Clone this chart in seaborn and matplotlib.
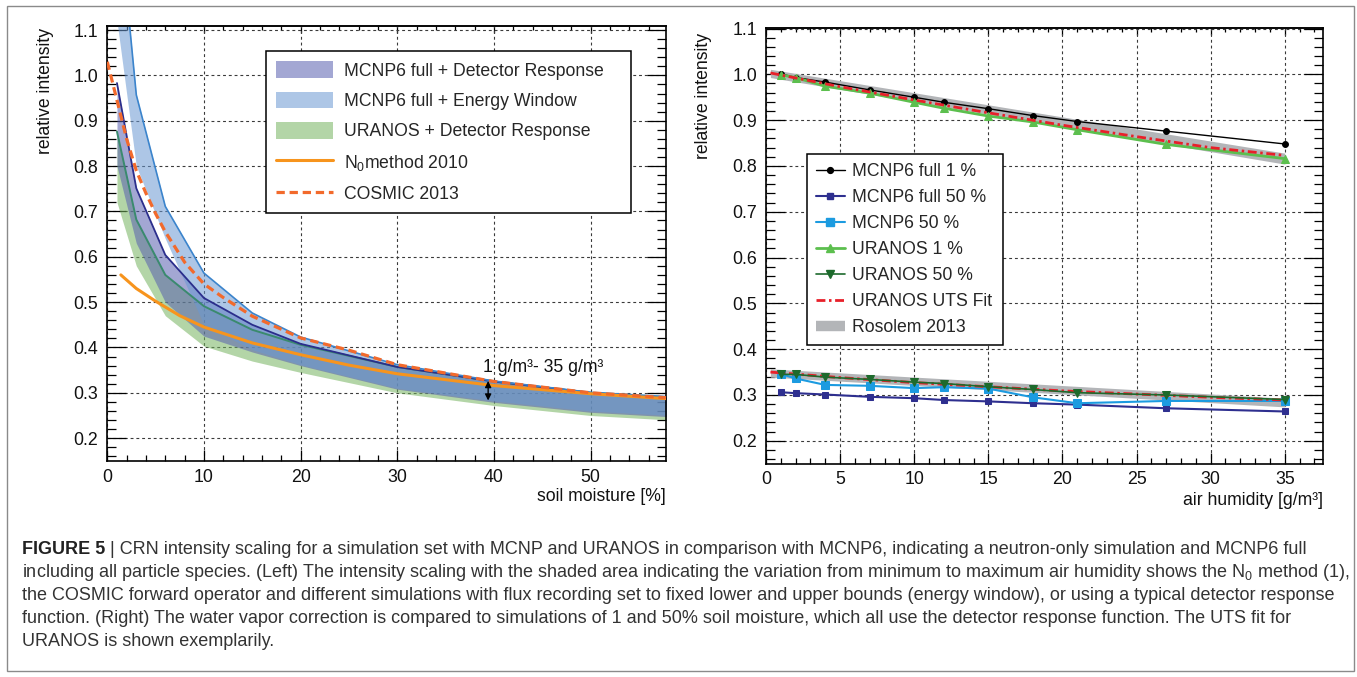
import matplotlib
matplotlib.use("Agg")
import matplotlib.pyplot as plt
import seaborn as sns
import numpy as np
from matplotlib.ticker import MultipleLocator, FormatStrFormatter
from matplotlib.patches import Patch, Rectangle
from matplotlib.lines import Line2D

sns.set_theme(style="ticks")
plt.rcParams['font.family'] = ['Liberation Sans', 'DejaVu Sans']
plt.rcParams['mathtext.fontset'] = 'custom'
plt.rcParams['mathtext.rm'] = 'Liberation Sans'
plt.rcParams['mathtext.it'] = 'Liberation Sans:italic'
plt.rcParams['mathtext.default'] = 'regular'

# ---------------- Left panel data (soil moisture [%]) ----------------
sm_pts = [1, 3, 6, 10, 15, 20, 30, 40, 50, 60]
det_upper = [0.983, 0.751, 0.604, 0.509, 0.450, 0.408, 0.357, 0.325, 0.300, 0.286]
det_lower = [0.800, 0.630, 0.500, 0.425, 0.390, 0.360, 0.308, 0.279, 0.257, 0.245]
ew_upper = [1.400, 0.957, 0.711, 0.564, 0.476, 0.423, 0.362, 0.326, 0.301, 0.289]
ew_lower = [1.120, 0.800, 0.640, 0.450, 0.395, 0.362, 0.310, 0.282, 0.260, 0.248]
ura_upper = [0.876, 0.682, 0.560, 0.491, 0.439, 0.406, 0.357, 0.325, 0.300, 0.288]
ura_lower = [0.720, 0.580, 0.470, 0.403, 0.370, 0.345, 0.300, 0.272, 0.250, 0.238]

cosmic_x = [0, 1, 2, 3, 4, 5, 6, 8, 10, 12, 15, 20, 25, 30, 40, 50, 58]
cosmic_y = [1.03, 0.945, 0.86, 0.79, 0.74, 0.695, 0.655, 0.588, 0.54, 0.51, 0.469,
            0.421, 0.394, 0.362, 0.325, 0.300, 0.289]
n0_x = [1.4, 3, 5, 7.5, 10, 15, 20, 25, 30, 40, 50, 58]
n0_y = [0.560, 0.530, 0.502, 0.470, 0.445, 0.410, 0.384, 0.361, 0.342, 0.316, 0.298, 0.287]

# ---------------- Right panel data (air humidity [g/m3]) ----------------
hum = [1, 2, 4, 7, 10, 12, 15, 18, 21, 27, 35]
mcnp_full_1 = [1.001, 0.993, 0.983, 0.966, 0.950, 0.939, 0.925, 0.910, 0.897, 0.876, 0.848]
mcnp_full_50 = [0.306, 0.304, 0.301, 0.296, 0.293, 0.289, 0.286, 0.282, 0.279, 0.271, 0.264]
mcnp_50 = [0.346, 0.336, 0.322, 0.320, 0.315, 0.317, 0.314, 0.295, 0.282, 0.287, 0.287]
uranos_1 = [0.999, 0.993, 0.974, 0.959, 0.939, 0.926, 0.909, 0.896, 0.879, 0.847, 0.816]
uranos_50 = [0.345, 0.345, 0.339, 0.334, 0.328, 0.325, 0.318, 0.312, 0.305, 0.300, 0.290]
fit_h = [0.3, 5, 10, 15, 20, 25, 30, 35]
uts_fit_1 = [1.003, 0.973, 0.944, 0.916, 0.889, 0.864, 0.840, 0.823]
uts_fit_50 = [0.350, 0.338, 0.327, 0.318, 0.309, 0.302, 0.295, 0.289]
ros_h = [0.3, 35]
ros1_hi = [1.011, 0.828]
ros1_lo = [0.993, 0.804]
ros50_hi = [0.357, 0.293]
ros50_lo = [0.339, 0.274]

# ---------------- figure ----------------
W, H = 1357, 677
fig = plt.figure(figsize=(W / 100, H / 100), dpi=100)
fig.patch.set_facecolor('white')


def rect(l, t, r, b):
    return [l / W, 1 - b / H, (r - l) / W, (b - t) / H]


axL = fig.add_axes(rect(107.3, 25.7, 666, 461.3))
axR = fig.add_axes(rect(766, 28.3, 1323.3, 463.7))

TICK_FS = 12.8
LAB_FS = 12.7


def style(ax, xmaj, xmin, ymaj, ymin):
    ax.set_facecolor('white')
    ax.xaxis.set_major_locator(MultipleLocator(xmaj))
    ax.xaxis.set_minor_locator(MultipleLocator(xmin))
    ax.yaxis.set_major_locator(MultipleLocator(ymaj))
    ax.yaxis.set_minor_locator(MultipleLocator(ymin))
    ax.yaxis.set_major_formatter(FormatStrFormatter('%.1f'))
    ax.grid(True, which='major', color='#3a3a3a', linestyle=(0, (2.6, 2.6)), linewidth=0.8)
    ax.set_axisbelow(True)
    for s in ax.spines.values():
        s.set_visible(True)
        s.set_linewidth(1.2)
        s.set_color('black')
    ax.tick_params(axis='y', which='major', direction='in', length=13.5, width=0.9,
                   left=True, right=True, labelsize=TICK_FS, pad=6.5, color='black',
                   labelcolor='#111111')
    ax.tick_params(axis='y', which='minor', direction='in', length=6.7, width=0.9,
                   left=True, right=True, color='black')
    ax.tick_params(axis='x', which='major', direction='in', length=8, width=0.9,
                   bottom=True, top=False, labelsize=TICK_FS, pad=5.5, color='black',
                   labelcolor='#111111')
    ax.tick_params(axis='x', which='minor', direction='in', length=4.3, width=0.9,
                   bottom=True, top=False, color='black')
    sec = ax.secondary_xaxis('top')
    sec.xaxis.set_major_locator(MultipleLocator(xmaj))
    sec.xaxis.set_minor_locator(MultipleLocator(xmin))
    sec.tick_params(which='major', direction='in', length=5, width=0.9, labeltop=False,
                    color='black')
    sec.tick_params(which='minor', direction='in', length=2.9, width=0.9, color='black')
    sec.spines['top'].set_linewidth(1.2)


# ---------------- Left panel ----------------
ALPHA = 0.55
GREEN_F = '#75B35F'
PURPLE_F = '#5860B0'
BLUE_F = '#6A98D2'
axL.fill_between(sm_pts, ura_lower, ura_upper, color=GREEN_F, alpha=ALPHA, lw=0, zorder=1.0)
axL.fill_between(sm_pts, det_lower, det_upper, color=PURPLE_F, alpha=ALPHA, lw=0, zorder=1.1)
axL.fill_between(sm_pts, ew_lower, ew_upper, color=BLUE_F, alpha=ALPHA, lw=0, zorder=1.2)

sns.lineplot(x=sm_pts, y=ura_upper, ax=axL, color='#3a8a6e', linewidth=1.4,
             estimator=None, sort=False, legend=False, zorder=2)
sns.lineplot(x=sm_pts, y=det_upper, ax=axL, color='#2b2e8c', linewidth=1.3,
             estimator=None, sort=False, legend=False, zorder=2.1)
sns.lineplot(x=sm_pts, y=ew_upper, ax=axL, color='#3b84cc', linewidth=1.2,
             estimator=None, sort=False, legend=False, zorder=2.2)
sns.lineplot(x=n0_x, y=n0_y, ax=axL, color='#f7941d', linewidth=2.2,
             estimator=None, sort=False, legend=False, zorder=3)
sns.lineplot(x=cosmic_x, y=cosmic_y, ax=axL, color='#f26a2c', linewidth=2.3,
             estimator=None, sort=False, legend=False, zorder=3.1)
axL.lines[-1].set_dashes([2.6, 1.5])

axL.set_xlim(0, 57.8)
axL.set_ylim(0.149, 1.1095)
style(axL, 10, 2, 0.1, 0.02)

axL.annotate('', xy=(39.4, 0.283), xytext=(39.4, 0.326),
             arrowprops=dict(arrowstyle='<|-|>', color='black', lw=1.0,
                             mutation_scale=9, shrinkA=0, shrinkB=0), zorder=5)
axL.text(38.9, 0.355, '1 g/m³- 35 g/m³', fontsize=LAB_FS, ha='left', va='center',
         color='#111111', zorder=5)

axL.set_xlabel('soil moisture [%]', fontsize=LAB_FS, ha='right', va='top', color='#111111')
axL.xaxis.set_label_coords(1.0, -0.062)
axL.set_ylabel('relative intensity', fontsize=LAB_FS, ha='right', color='#111111')
axL.yaxis.set_label_coords(-0.096, 0.995)

hL = [Patch(facecolor=PURPLE_F, alpha=ALPHA, edgecolor='none'),
      Patch(facecolor=BLUE_F, alpha=ALPHA, edgecolor='none'),
      Patch(facecolor=GREEN_F, alpha=ALPHA, edgecolor='none'),
      Line2D([], [], color='#f7941d', lw=2.2),
      Line2D([], [], color='#f26a2c', lw=2.3, dashes=[2.6, 1.5])]
labL = ['MCNP6 full + Detector Response', 'MCNP6 full + Energy Window',
        'URANOS + Detector Response', 'N$_0$method 2010', 'COSMIC 2013']
legL = axL.legend(hL, labL, loc='upper left', bbox_to_anchor=(0.284, 0.0, 0.653, 0.942),
                  mode='expand', fontsize=LAB_FS, frameon=True, fancybox=False,
                  framealpha=1, edgecolor='black', borderpad=0.58, labelspacing=0.69,
                  handlelength=3.2, handleheight=1.07, handletextpad=0.62,
                  borderaxespad=0)
legL.get_frame().set_linewidth(1.1)
legL.set_zorder(10)

# ---------------- Right panel ----------------
GRAY = '#b3b5b8'
axR.fill_between(ros_h, ros1_lo, ros1_hi, color=GRAY, lw=0, zorder=1)
axR.fill_between(ros_h, ros50_lo, ros50_hi, color=GRAY, lw=0, zorder=1)

sns.lineplot(x=hum, y=mcnp_full_1, ax=axR, color='black', linewidth=1.0, marker='o',
             markersize=4.2, markeredgecolor='black', estimator=None, sort=False,
             legend=False, zorder=3)
sns.lineplot(x=hum, y=mcnp_full_50, ax=axR, color='#2e2f8f', linewidth=1.5, marker='s',
             markersize=4.6, markeredgecolor='#2e2f8f', estimator=None, sort=False,
             legend=False, zorder=3)
sns.lineplot(x=hum, y=mcnp_50, ax=axR, color='#1c9be0', linewidth=1.5, marker='s',
             markersize=6.3, markeredgecolor='#1c9be0', estimator=None, sort=False,
             legend=False, zorder=3)
sns.lineplot(x=fit_h, y=uts_fit_1, ax=axR, color='#e8202a', linewidth=2.0,
             estimator=None, sort=False, legend=False, zorder=3.5)
axR.lines[-1].set_dashes([3.2, 1.3, 0.9, 1.3])
sns.lineplot(x=fit_h, y=uts_fit_50, ax=axR, color='#e8202a', linewidth=2.0,
             estimator=None, sort=False, legend=False, zorder=3.5)
axR.lines[-1].set_dashes([3.2, 1.3, 0.9, 1.3])
sns.lineplot(x=hum, y=uranos_1, ax=axR, color='#5cbf4e', linewidth=2.0, marker='^',
             markersize=5.8, markeredgecolor='#5cbf4e', estimator=None, sort=False,
             legend=False, zorder=3.2)
sns.lineplot(x=hum, y=uranos_50, ax=axR, color='#1d6a2c', linewidth=1.2, marker='v',
             markersize=6.3, markeredgecolor='#1d6a2c', estimator=None, sort=False,
             legend=False, zorder=3.6)

axR.set_xlim(0, 37.6)
axR.set_ylim(0.15, 1.1005)
style(axR, 5, 1, 0.1, 0.02)
axR.xaxis.set_major_formatter(FormatStrFormatter('%d'))

axR.set_xlabel('air humidity [g/m³]', fontsize=LAB_FS, ha='right', va='top', color='#111111')
axR.xaxis.set_label_coords(1.0, -0.066)
axR.set_ylabel('relative intensity', fontsize=LAB_FS, ha='right', color='#111111')
axR.yaxis.set_label_coords(-0.097, 0.99)

hR = [Line2D([], [], color='black', lw=1.0, marker='o', markersize=4.2),
      Line2D([], [], color='#2e2f8f', lw=1.5, marker='s', markersize=4.6),
      Line2D([], [], color='#1c9be0', lw=1.5, marker='s', markersize=5.5),
      Line2D([], [], color='#5cbf4e', lw=2.0, marker='^', markersize=5.5),
      Line2D([], [], color='#1d6a2c', lw=1.2, marker='v', markersize=5.5),
      Line2D([], [], color='#e8202a', lw=2.0, dashes=[3.2, 1.3, 0.9, 1.3]),
      Line2D([], [], color=GRAY, lw=7.5, solid_capstyle='butt')]
labR = ['MCNP6 full 1 %', 'MCNP6 full 50 %', 'MCNP6 50 %', 'URANOS 1 %',
        'URANOS 50 %', 'URANOS UTS Fit', 'Rosolem 2013']
legR = axR.legend(hR, labR, loc='upper left', bbox_to_anchor=(0.073, 0.0, 0.352, 0.711),
                  mode='expand', fontsize=LAB_FS, frameon=True, fancybox=False,
                  framealpha=1, edgecolor='black', borderpad=0.5, labelspacing=0.51,
                  handlelength=1.65, handletextpad=0.4, borderaxespad=0)
legR.get_frame().set_linewidth(1.1)
legR.set_zorder(10)

# ---------------- outer border and caption ----------------
fig.patches.append(Rectangle((7 / W, 1 - 671 / H), (1354 - 7) / W, (671 - 6) / H,
                             transform=fig.transFigure, fill=False, edgecolor='#8a8a8a',
                             lw=1.0))

cap_lines = [
    " | CRN intensity scaling for a simulation set with MCNP and URANOS in comparison with MCNP6, indicating a neutron-only simulation and MCNP6 full",
    "including all particle species. (Left) The intensity scaling with the shaded area indicating the variation from minimum to maximum air humidity shows the N$_0$ method (1),",
    "the COSMIC forward operator and different simulations with flux recording set to fixed lower and upper bounds (energy window), or using a typical detector response",
    "function. (Right) The water vapor correction is compared to simulations of 1 and 50% soil moisture, which all use the detector response function. The UTS fit for",
    "URANOS is shown exemplarily.",
]
cap_y = [550, 572.8, 595.6, 618.4, 641.2]
x0 = 21.6
cap_fs = 10.0
fig.canvas.draw()
renderer = fig.canvas.get_renderer()
tb = fig.text(x0 / W, 1 - cap_y[0] / H, "FIGURE 5", fontsize=cap_fs, weight='bold',
              ha='left', va='center', color='#222222')
t1 = fig.text(0, 1 - cap_y[0] / H, cap_lines[0], fontsize=cap_fs, ha='left', va='center',
              color='#333333')
wb = tb.get_window_extent(renderer).width
w1 = t1.get_window_extent(renderer).width
scale = (1303 - x0) / (wb + w1)
cap_fs = cap_fs * scale
tb.set_fontsize(cap_fs)
t1.set_fontsize(cap_fs)
wb = tb.get_window_extent(renderer).width
t1.set_x((x0 + wb) / W)
for line, yy in zip(cap_lines[1:], cap_y[1:]):
    fig.text(x0 / W, 1 - yy / H, line, fontsize=cap_fs, ha='left', va='center',
             color='#333333')

fig.savefig('out.png', dpi=100, facecolor='white')
